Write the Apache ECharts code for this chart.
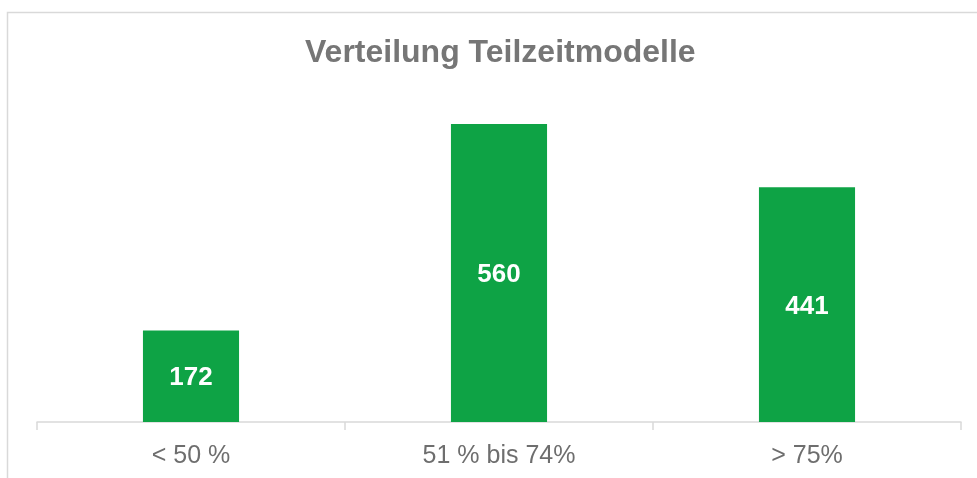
<!DOCTYPE html>
<html>
<head>
<meta charset="utf-8">
<script src="https://cdn.jsdelivr.net/npm/echarts@6/dist/echarts.min.js"></script>
<style>
html, body { margin: 0; padding: 0; background: #fff; }
#chart { width: 977px; height: 478px; }
</style>
</head>
<body>
<div id="chart"></div>
<script>
var categories = ['< 50 %', '51 % bis 74%', '> 75%'];
var values = [172, 560, 441];

var chart = echarts.init(document.getElementById('chart'));
var option = {
	animation : false,
	backgroundColor : '#ffffff',
	textStyle : {
		fontFamily : 'Liberation Sans, Arial, sans-serif'
	},
	graphic : [ {
		type : 'rect',
		shape : { x : 7.5, y : 12.5, width : 1000, height : 500 },
		style : { fill : 'none', stroke : '#d9d9d9', lineWidth : 1.5 },
		silent : true
	} ],
	title : {
		text : 'Verteilung Teilzeitmodelle',
		left : 305,
		top : 37,
		padding : 0,
		textStyle : {
			fontSize : 32,
			fontWeight : 'bold',
			color : '#767676'
		}
	},
	grid : {
		left : 37,
		right : 16,
		top : 124,
		bottom : 56
	},
	xAxis : {
		type : 'category',
		data : categories,
		axisLine : { lineStyle : { color : '#d9d9d9', width : 1.5 } },
		axisTick : { show : true, length : 8, lineStyle : { color : '#d9d9d9', width : 1.5 } },
		axisLabel : {
			fontSize : 25,
			color : '#6e6e6e',
			margin : 22
		}
	},
	yAxis : {
		type : 'value',
		min : 0,
		max : 560,
		show : false,
		splitLine : { show : false }
	},
	series : [ {
		type : 'bar',
		data : values,
		barWidth : '31.2%',
		itemStyle : { color : '#0ea345' },
		label : {
			show : true,
			position : 'inside',
			offset : [0, 2],
			color : '#ffffff',
			fontSize : 26,
			fontWeight : 'bold'
		}
	} ]
};
chart.setOption(option);
</script>
</body>
</html>
